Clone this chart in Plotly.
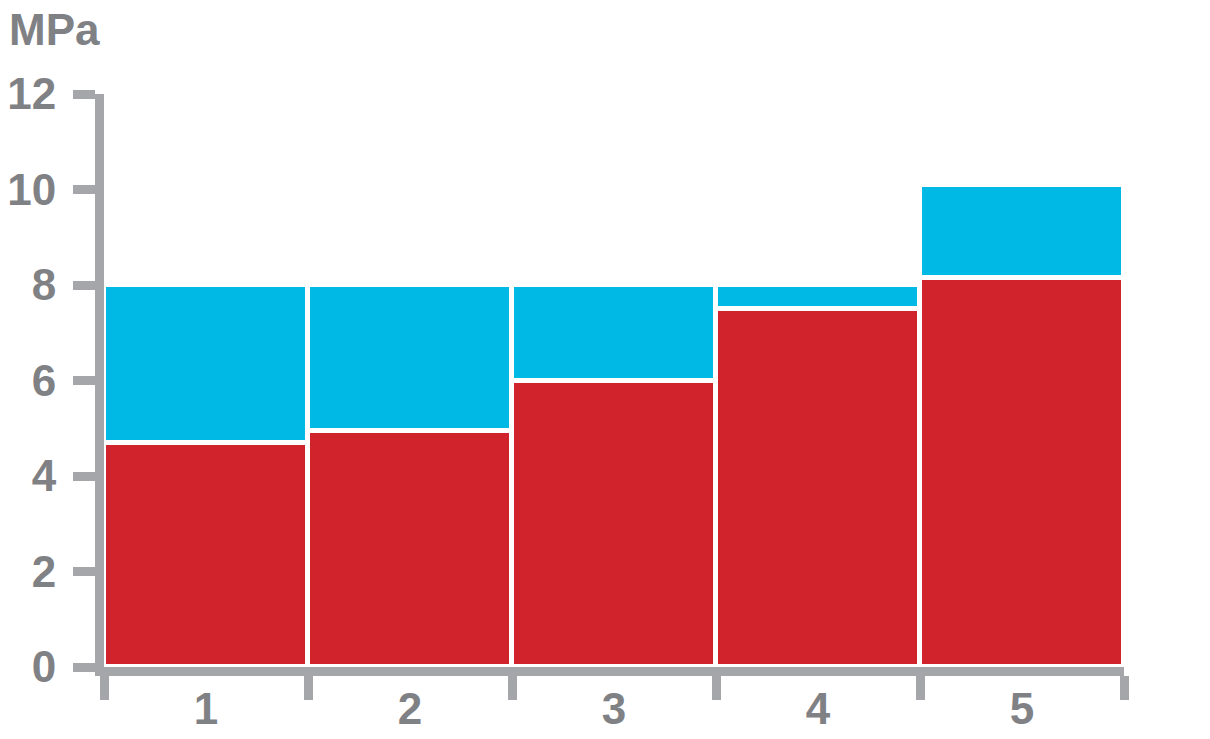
import plotly.graph_objects as go

categories = [1, 2, 3, 4, 5]
red_values = [4.7, 4.95, 6.0, 7.5, 8.15]
blue_values = [3.3, 3.05, 2.0, 0.5, 1.95]
y_ticks = [0, 2, 4, 6, 8, 10, 12]
unit_label = "MPa"

RED = "#D0232B"
BLUE = "#00B9E4"
AXIS_GRAY = "#A5A6AA"
TEXT_GRAY = "#808185"
FONT = "Liberation Sans"

fig = go.Figure()
fig.add_trace(go.Bar(x=categories, y=red_values, marker=dict(color=RED, line=dict(color="white", width=5))))
fig.add_trace(go.Bar(x=categories, y=blue_values, marker=dict(color=BLUE, line=dict(color="white", width=5))))

# page body adds 8px, so margins are shifted by that
fig.update_layout(
    barmode="stack",
    bargap=0,
    showlegend=False,
    width=1210,
    height=739,
    margin=dict(l=96, r=94, t=86, b=80, autoexpand=False),
    paper_bgcolor="white",
    plot_bgcolor="white",
    font=dict(family=FONT, size=44, color=TEXT_GRAY, weight="bold"),
)

fig.update_xaxes(
    range=[0.5, 5.5],
    tickvals=categories,
    ticktext=[str(c) for c in categories],
    ticks="",
    showline=True,
    linewidth=9,
    linecolor=AXIS_GRAY,
    showgrid=False,
    zeroline=False,
    automargin=False,
    ticklabelstandoff=-5,
    minor=dict(tick0=0.5, dtick=1, ticks="outside", ticklen=24, tickwidth=9, tickcolor=AXIS_GRAY, showgrid=False),
)
fig.update_yaxes(
    range=[0, 12],
    tickvals=y_ticks,
    ticks="outside",
    ticklen=22,
    tickwidth=9,
    tickcolor=AXIS_GRAY,
    showline=True,
    linewidth=9,
    linecolor=AXIS_GRAY,
    showgrid=False,
    zeroline=False,
    automargin=False,
    ticklabelstandoff=8,
)

fig.add_annotation(
    text=unit_label,
    xref="paper",
    yref="paper",
    x=-0.095,
    y=1.112,
    xanchor="left",
    yanchor="middle",
    showarrow=False,
    font=dict(family=FONT, size=44, color=TEXT_GRAY, weight="bold"),
)

fig.write_html("out.html")
